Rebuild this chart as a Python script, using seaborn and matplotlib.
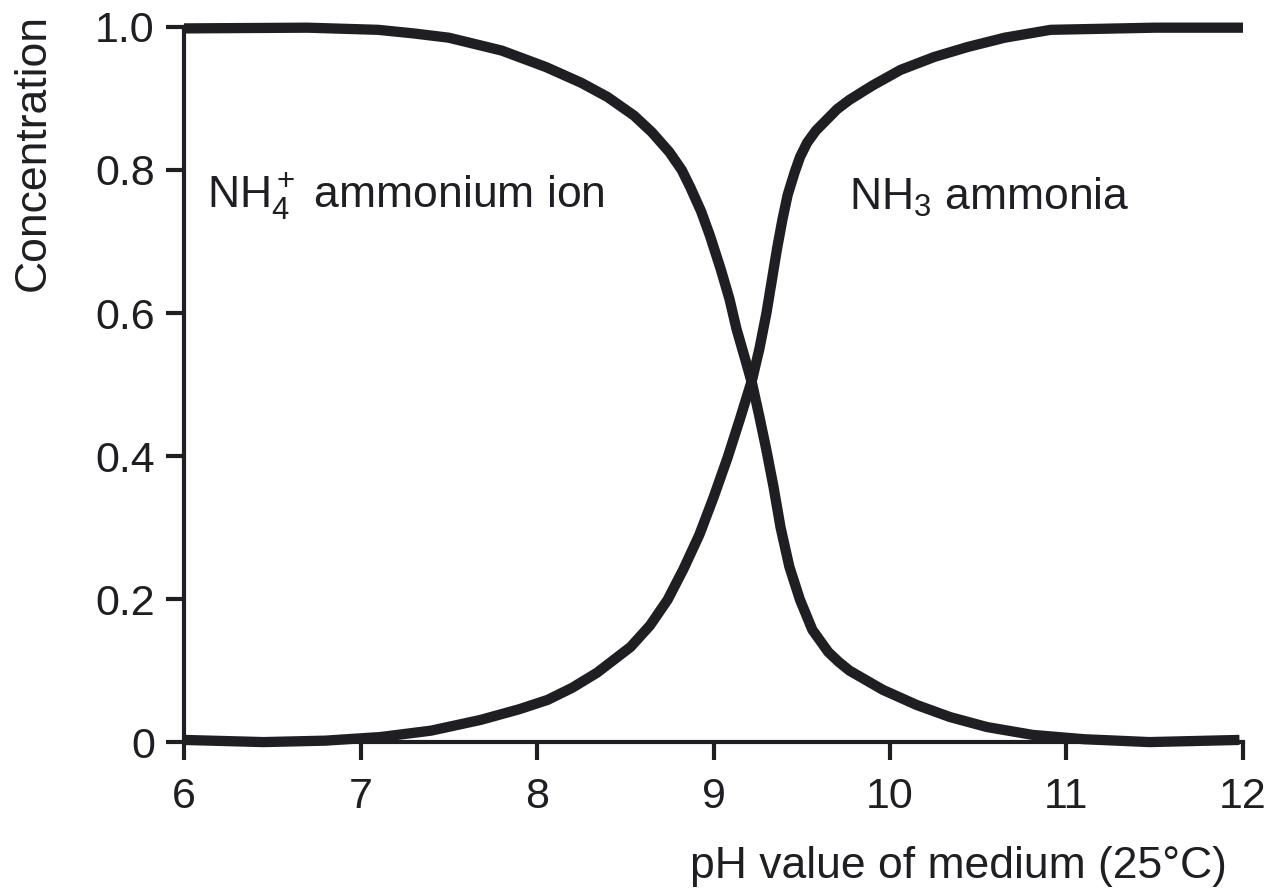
import matplotlib
matplotlib.use('Agg')
import pandas as pd
import seaborn as sns
import matplotlib.pyplot as plt

# values
ph_nh4 = [6.0, 6.7, 7.1, 7.3, 7.5, 7.8, 8.05, 8.25, 8.4, 8.55, 8.65, 8.75,
          8.82, 8.87, 8.93, 8.98, 9.04, 9.09, 9.13, 9.18, 9.22, 9.26, 9.30,
          9.34, 9.38, 9.43, 9.49, 9.56, 9.65, 9.71, 9.77, 9.96, 10.15, 10.34,
          10.55, 10.81, 11.1, 11.47, 11.98]
nh4 = [0.998, 0.999, 0.996, 0.991, 0.985, 0.967, 0.944, 0.922, 0.902, 0.876,
       0.853, 0.825, 0.800, 0.775, 0.742, 0.708, 0.662, 0.620, 0.578, 0.535,
       0.50, 0.455, 0.408, 0.357, 0.30, 0.245, 0.199, 0.157, 0.126, 0.112,
       0.10, 0.073, 0.052, 0.035, 0.021, 0.01, 0.004, 0.0, 0.003]

ph_nh3 = [6.0, 6.45, 6.8, 7.11, 7.4, 7.68, 7.9, 8.06, 8.2, 8.34, 8.53, 8.64,
          8.74, 8.83, 8.92, 9.0, 9.08, 9.15, 9.22, 9.26, 9.30, 9.33, 9.36,
          9.39, 9.42, 9.46, 9.49, 9.53, 9.58, 9.64, 9.70, 9.77, 9.9, 10.06,
          10.25, 10.44, 10.65, 10.91, 11.5, 12.0]
nh3 = [0.003, 0.0, 0.002, 0.007, 0.016, 0.031, 0.046, 0.059, 0.076, 0.097,
       0.133, 0.163, 0.199, 0.242, 0.29, 0.342, 0.398, 0.452, 0.508, 0.55,
       0.60, 0.645, 0.69, 0.73, 0.765, 0.797, 0.818, 0.838, 0.855, 0.870,
       0.885, 0.898, 0.918, 0.94, 0.958, 0.972, 0.985, 0.996, 0.999, 0.999]

x_ticks = [6, 7, 8, 9, 10, 11, 12]
y_ticks = [0, 0.2, 0.4, 0.6, 0.8, 1.0]
y_tick_labels = ['0', '0.2', '0.4', '0.6', '0.8', '1.0']

df_nh4 = pd.DataFrame({'pH': ph_nh4, 'conc': nh4})
df_nh3 = pd.DataFrame({'pH': ph_nh3, 'conc': nh3})

sns.set_style('white')
plt.rcParams['font.family'] = ['Liberation Sans', 'DejaVu Sans']
plt.rcParams['mathtext.fontset'] = 'custom'
plt.rcParams['mathtext.rm'] = 'Liberation Sans'
plt.rcParams['mathtext.it'] = 'Liberation Sans:italic'

ink = '#1f1e22'

fig = plt.figure(figsize=(12.78, 8.93), dpi=100)
ax = fig.add_axes([0.144, 0.169, 0.8286, 0.8008])

sns.lineplot(data=df_nh4, x='pH', y='conc', color=ink, linewidth=7.4, ax=ax)
sns.lineplot(data=df_nh3, x='pH', y='conc', color=ink, linewidth=7.4, ax=ax)
for line in ax.lines:
    line.set_clip_on(False)
    line.set_solid_capstyle('butt')
    line.set_solid_joinstyle('round')

ax.set_xlim(6, 12)
ax.set_ylim(0, 1)
ax.set_xticks(x_ticks)
ax.set_yticks(y_ticks)
ax.set_yticklabels(y_tick_labels)
ax.tick_params(axis='both', direction='out', length=13, width=3, color=ink,
               labelsize=31, labelcolor=ink, bottom=True, left=True)
ax.tick_params(axis='x', pad=12)
ax.tick_params(axis='y', pad=8)

sns.despine(ax=ax)
for side in ['left', 'bottom']:
    ax.spines[side].set_linewidth(3)
    ax.spines[side].set_color(ink)

ax.set_xlabel('pH value of medium (25°C)', fontsize=32, color=ink)
ax.xaxis.set_label_coords(0.731, -0.146)
ax.set_ylabel('Concentration', fontsize=32, color=ink)
ax.yaxis.set_label_coords(-0.123, 0.824)

ax.text(6.13, 0.748, r'NH$_4^+$ ammonium ion', fontsize=32, color=ink,
        va='baseline', ha='left')
ax.text(9.77, 0.745, r'NH$_3$ ammonia', fontsize=32, color=ink,
        va='baseline', ha='left')

fig.savefig('out.png', dpi=100)
